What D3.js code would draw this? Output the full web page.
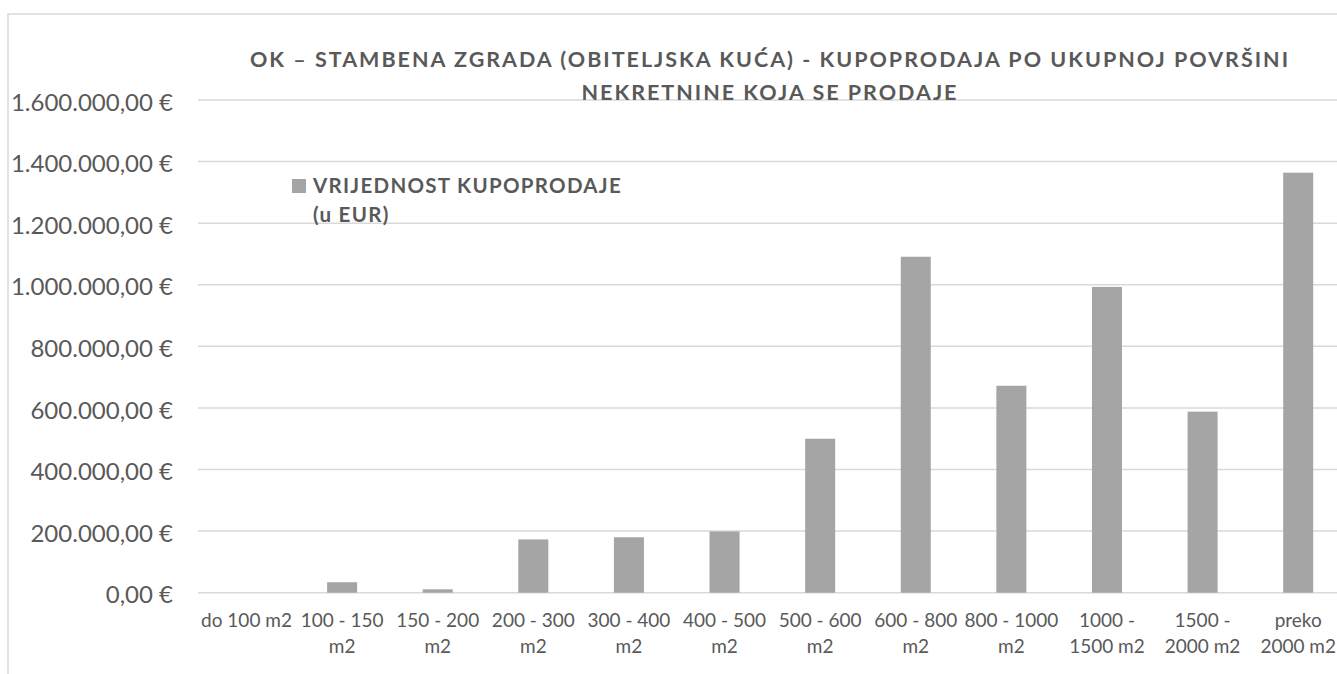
<!DOCTYPE html>
<html>
<head>
<meta charset="utf-8">
<script src="https://cdn.jsdelivr.net/npm/d3@7"></script>
<style>
  html, body { margin: 0; padding: 0; background: #fff; overflow: hidden; }
  svg { display: block; }
  text { font-family: Lato, "Open Sans", sans-serif; fill: #595959; }
</style>
</head>
<body>
<svg id="chart" width="1337" height="674"></svg>
<script>
const categories = ["do 100 m2", "100 - 150 m2", "150 - 200 m2", "200 - 300 m2", "300 - 400 m2", "400 - 500 m2",
                    "500 - 600 m2", "600 - 800 m2", "800 - 1000 m2", "1000 - 1500 m2", "1500 - 2000 m2", "preko 2000 m2"];
const tickLabels = [["do 100 m2"], ["100 - 150", "m2"], ["150 - 200", "m2"], ["200 - 300", "m2"], ["300 - 400", "m2"],
                    ["400 - 500", "m2"], ["500 - 600", "m2"], ["600 - 800", "m2"], ["800 - 1000", "m2"],
                    ["1000 -", "1500 m2"], ["1500 -", "2000 m2"], ["preko", "2000 m2"]];
const values = [0, 34000, 11000, 173000, 180000, 199000, 500000, 1091000, 672000, 993000, 588000, 1364000];
const yTicks = [0, 200000, 400000, 600000, 800000, 1000000, 1200000, 1400000, 1600000];
const titleLines = ["OK – STAMBENA ZGRADA (OBITELJSKA KUĆA) - KUPOPRODAJA PO UKUPNOJ POVRŠINI",
                    "NEKRETNINE KOJA SE PRODAJE"];
const legendLines = ["VRIJEDNOST KUPOPRODAJE", "(u EUR)"];

const svg = d3.select("#chart");
const locale = d3.formatLocale({decimal: ",", thousands: ".", grouping: [3], currency: ["", ""]});
const fmt = v => locale.format(",.2f")(v) + " €";

// chart border
svg.append("rect").attr("x", 8).attr("y", 14).attr("width", 1400).attr("height", 700)
  .attr("fill", "none").attr("stroke", "#d9d9d9").attr("stroke-width", 1.5);

const x = d3.scaleBand().domain(categories).range([198.7, 1346]).paddingInner(0.686).paddingOuter(0.343);
const y = d3.scaleLinear().domain([0, 1600000]).range([592.7, 100]);

// gridlines
svg.append("g").selectAll("line").data(yTicks).join("line")
  .attr("x1", 198).attr("x2", 1337)
  .attr("y1", d => y(d)).attr("y2", d => y(d))
  .attr("stroke", "#d9d9d9").attr("stroke-width", 1.5);

// y labels
const yAxis = d3.axisLeft(y).tickValues(yTicks).tickFormat(fmt).tickSize(0).tickPadding(0);
const gy = svg.append("g").attr("transform", "translate(173,0)").call(yAxis);
gy.select(".domain").remove();
gy.selectAll("text").attr("font-family", "Lato, 'Open Sans', sans-serif").attr("font-size", 24)
  .attr("fill", "#595959").attr("dy", "0.42em");

// bars
svg.append("g").selectAll("rect").data(values).join("rect")
  .attr("x", (d, i) => x(categories[i]))
  .attr("width", x.bandwidth())
  .attr("y", d => y(d))
  .attr("height", d => y(0) - y(d))
  .attr("fill", "#a5a5a5");

// x labels
const xl = svg.append("g").selectAll("text").data(categories).join("text")
  .attr("x", d => x(d) + x.bandwidth() / 2)
  .attr("y", 627)
  .attr("text-anchor", "middle")
  .attr("font-size", 19);
xl.each(function(d, i) {
  d3.select(this).selectAll("tspan").data(tickLabels[i]).join("tspan")
    .attr("x", x(d) + x.bandwidth() / 2)
    .attr("dy", (t, j) => j === 0 ? 0 : 25.5)
    .text(t => t);
});

// title
const title = svg.append("g").selectAll("text").data(titleLines).join("text")
  .attr("x", 770).attr("y", (d, i) => 67 + i * 32.5)
  .attr("text-anchor", "middle").attr("font-weight", "bold").attr("font-size", 21.5)
  .text(d => d);
{
  const n = title.nodes()[0];
  const w = n.getComputedTextLength();
  const ls = (1040 - w) / (titleLines[0].length);
  title.style("letter-spacing", ls + "px");
}

// legend
svg.append("rect").attr("x", 292).attr("y", 179).attr("width", 14).attr("height", 14).attr("fill", "#a5a5a5");
const leg = svg.append("g").selectAll("text").data(legendLines).join("text")
  .attr("x", 313).attr("y", (d, i) => 193 + i * 29)
  .attr("font-weight", "bold").attr("font-size", 20.5)
  .text(d => d);
{
  const n = leg.nodes()[0];
  const w = n.getComputedTextLength();
  const ls = (309 - w) / (legendLines[0].length);
  leg.style("letter-spacing", ls + "px");
}
</script>
</body>
</html>
